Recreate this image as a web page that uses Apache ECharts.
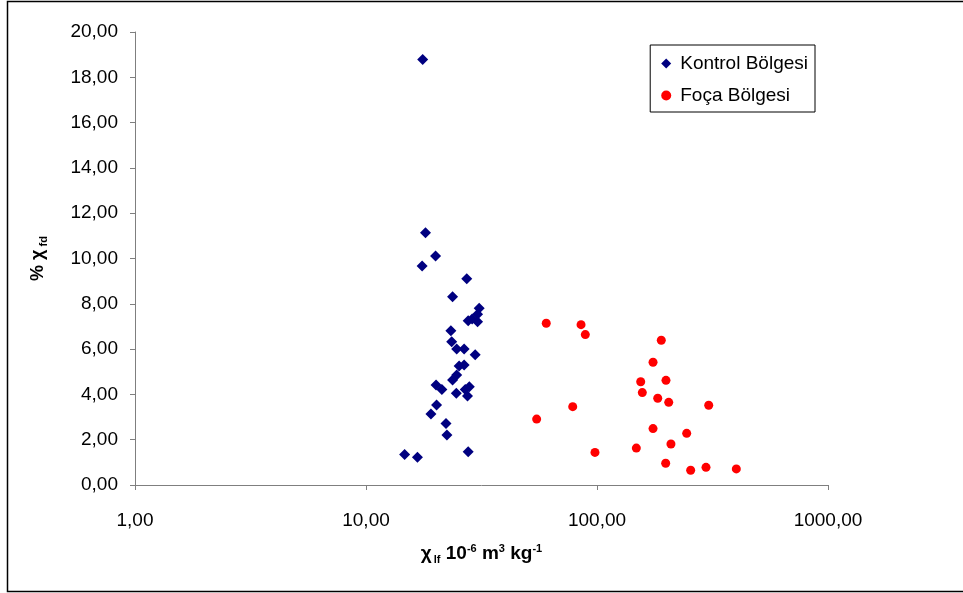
<!DOCTYPE html>
<html>
<head>
<meta charset="utf-8">
<script src="https://cdn.jsdelivr.net/npm/echarts@6/dist/echarts.min.js"></script>
<style>
  html, body { margin: 0; padding: 0; background: #fff; }
  #chart { width: 963px; height: 593px; }
</style>
</head>
<body>
<div id="chart"></div>
<script>
// Kontrol Bölgesi: [chi_lf, %chi_fd]
const kontrolX = [17.6, 18.1, 20.0, 17.5, 27.3, 23.7, 30.9, 30.4, 27.7, 28.8, 30.4, 23.3, 23.5, 24.7, 26.6, 29.7,
  25.3, 26.6, 24.7, 23.7, 20.1, 21.3, 24.6, 26.9, 28.0, 27.5, 20.2, 19.1, 22.2, 22.4, 14.7, 16.7, 27.7]
const kontrolY = [18.79, 11.14, 10.11, 9.67, 9.11, 8.31, 7.80, 7.54, 7.25, 7.33, 7.21, 6.81, 6.33, 6.00, 6.00, 5.75,
  5.25, 5.30, 4.86, 4.64, 4.42, 4.22, 4.05, 4.22, 4.34, 3.93, 3.53, 3.13, 2.72, 2.21, 1.35, 1.22, 1.47]

// Foça Bölgesi
const focaX = [60.3, 85.3, 89.0, 78.5, 54.8, 98.0, 189.8, 174.8, 154.6, 198.9, 157.1, 183.2, 204.4, 304.5,
  174.8, 244.5, 148.0, 209.0, 198.3, 254.4, 296.4, 401.0]
const focaY = [7.14, 7.08, 6.64, 3.46, 2.91, 1.44, 6.39, 5.42, 4.56, 4.62, 4.08, 3.83, 3.65, 3.52,
  2.49, 2.28, 1.63, 1.81, 0.96, 0.65, 0.78, 0.71]

const seriesNames = ['Kontrol Bölgesi', 'Foça Bölgesi']

const pair = (xs, ys) => xs.map((x, i) => [x, ys[i]])
const comma = v => Number(v).toFixed(2).replace('.', ',')

const axisColor = '#7f7f7f'
const font = 'Liberation Sans, Arial, sans-serif'

const myChart = echarts.init(document.getElementById('chart'), null, { renderer: 'canvas' })

const option = {
  backgroundColor: '#ffffff',
  animation: false,
  grid: { left: 135, right: 135, top: 32, bottom: 108, containLabel: false },
  legend: {
    right: 148,
    top: 45,
    orient: 'vertical',
    itemGap: 13,
    itemWidth: 10,
    itemHeight: 10,
    padding: [9, 7, 7, 11],
    borderColor: '#000',
    borderWidth: 1,
    borderRadius: 0,
    textStyle: { fontFamily: font, fontSize: 19, color: '#000', padding: [0, 0, 0, 4] },
    data: [
      { name: seriesNames[0], icon: 'diamond' },
      { name: seriesNames[1], icon: 'circle' }
    ]
  },
  xAxis: {
    type: 'log',
    logBase: 10,
    min: 1,
    max: 1000,
    interval: 1,
    name: '{b|χ}{s|lf}{b| 10}{p|-6}{b| m}{p|3}{b| kg}{p|-1}',
    nameLocation: 'middle',
    nameGap: 58,
    nameTextStyle: {
      fontFamily: font,
      rich: {
        b: { fontSize: 19, fontWeight: 'bold', color: '#000', fontFamily: font, lineHeight: 22 },
        s: { fontSize: 11, fontWeight: 'bold', color: '#000', fontFamily: font, lineHeight: 11, verticalAlign: 'bottom', padding: [0, 0, 0, 2] },
        p: { fontSize: 11, fontWeight: 'bold', color: '#000', fontFamily: font, lineHeight: 11, verticalAlign: 'top' }
      }
    },
    axisLine: { lineStyle: { color: axisColor, width: 1 } },
    axisTick: { show: true, length: 5, lineStyle: { color: axisColor } },
    minorTick: { show: false },
    splitLine: { show: false },
    axisLabel: {
      margin: 26,
      fontFamily: font,
      fontSize: 19,
      color: '#000',
      formatter: v => comma(v)
    }
  },
  yAxis: {
    type: 'value',
    min: 0,
    max: 20,
    interval: 2,
    name: '{b|% χ}{s| fd}',
    nameLocation: 'middle',
    nameRotate: 90,
    nameGap: 86,
    nameTextStyle: {
      fontFamily: font,
      rich: {
        b: { fontSize: 18, fontWeight: 'bold', color: '#000', fontFamily: font, lineHeight: 22 },
        s: { fontSize: 11, fontWeight: 'bold', color: '#000', fontFamily: font, lineHeight: 11, verticalAlign: 'bottom' }
      }
    },
    axisLine: { show: true, lineStyle: { color: axisColor, width: 1 } },
    axisTick: { show: true, length: 5, lineStyle: { color: axisColor } },
    splitLine: { show: false },
    axisLabel: {
      margin: 17,
      fontFamily: font,
      fontSize: 19,
      color: '#000',
      formatter: v => comma(v)
    }
  },
  series: [
    {
      name: seriesNames[0],
      type: 'scatter',
      symbol: 'diamond',
      symbolSize: 11,
      itemStyle: { color: '#000080', opacity: 1 },
      data: pair(kontrolX, kontrolY)
    },
    {
      name: seriesNames[1],
      type: 'scatter',
      symbol: 'circle',
      symbolSize: 9,
      itemStyle: { color: '#ff0000', opacity: 1 },
      data: pair(focaX, focaY)
    }
  ],
  graphic: [
    {
      type: 'rect',
      silent: true,
      shape: { x: 7.5, y: 1.5, width: 965, height: 590 },
      style: { fill: 'none', stroke: '#000', lineWidth: 1.5 }
    }
  ]
}

myChart.setOption(option)
</script>
</body>
</html>
